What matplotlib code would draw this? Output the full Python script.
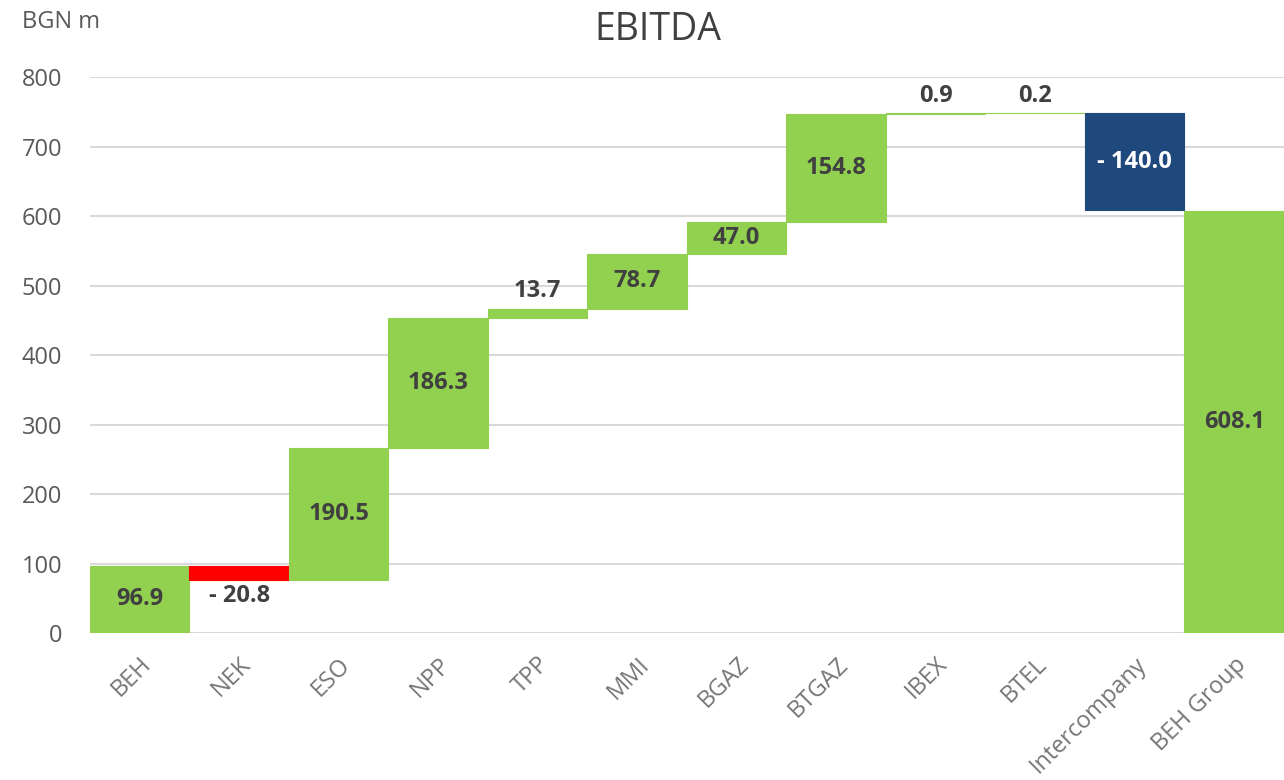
import numpy as np
from matplotlib import pyplot as plt

# EBITDA waterfall, BGN m
categories = ["BEH", "NEK", "ESO", "NPP", "TPP", "MMI", "BGAZ", "BTGAZ",
              "IBEX", "BTEL", "Intercompany", "BEH Group"]
changes = [96.9, -20.8, 190.5, 186.3, 13.7, 78.7, 47.0, 154.8, 0.9, 0.2, -140.0]
total = 608.1
labels = ["96.9", "- 20.8", "190.5", "186.3", "13.7", "78.7", "47.0", "154.8",
          "0.9", "0.2", "- 140.0", "608.1"]
yticks = [0, 100, 200, 300, 400, 500, 600, 700, 800]

green = "#92D050"
red = "#FF0000"
navy = "#1F497D"
dark = "#404040"
grey = "#595959"
light_grey = "#767676"

plt.rcParams["font.family"] = ["Open Sans", "DejaVu Sans"]

# running levels
ends = np.cumsum(changes)
starts = np.concatenate([[0], ends[:-1]])
bottoms = list(np.minimum(starts, ends)) + [0]
heights = list(np.abs(changes)) + [total]
colors = [green] * len(categories)
colors[1] = red
colors[10] = navy

fig = plt.figure(figsize=(12.84, 7.80), dpi=100)
ax = fig.add_axes([0.070, 0.1885, 0.930, 0.7125])

x = np.arange(len(categories))
ax.bar(x, heights, bottom=bottoms, width=1.0, color=colors,
       edgecolor=colors, linewidth=0.8, zorder=2)

# data labels: inside big bars, outside small ones
for i, (b, h, lab) in enumerate(zip(bottoms, heights, labels)):
    if h > 40:
        c = "white" if colors[i] == navy else dark
        ax.text(i, b + h / 2, lab, ha="center", va="center", fontsize=17,
                fontweight="bold", color=c, zorder=3)
    elif i < len(changes) and changes[i] < 0:
        ax.text(i, b - 6, lab, ha="center", va="top", fontsize=17,
                fontweight="bold", color=dark, zorder=3)
    else:
        ax.text(i, b + h + 8, lab, ha="center", va="bottom", fontsize=17,
                fontweight="bold", color=dark, zorder=3, clip_on=False)

ax.set_xlim(-0.5, len(categories) - 0.5)
ax.set_ylim(0, 800)
ax.set_yticks(yticks)
ax.yaxis.grid(True, color="#D9D9D9", linewidth=1.5, zorder=0)
ax.set_axisbelow(True)
for s in ax.spines.values():
    s.set_visible(False)
ax.tick_params(axis="both", length=0, labelsize=17)
ax.tick_params(axis="y", pad=20, colors=grey)
ax.set_xticks(x)
ax.set_xticklabels(categories, rotation=45, ha="right", rotation_mode="anchor")
ax.tick_params(axis="x", pad=14, colors=light_grey)

fig.text(0.5125, 0.962, "EBITDA", fontsize=27, color=dark, ha="center", va="center")
fig.text(0.017, 0.972, "BGN m", fontsize=17, color=grey, va="center")

fig.savefig("out.png", dpi=100)
